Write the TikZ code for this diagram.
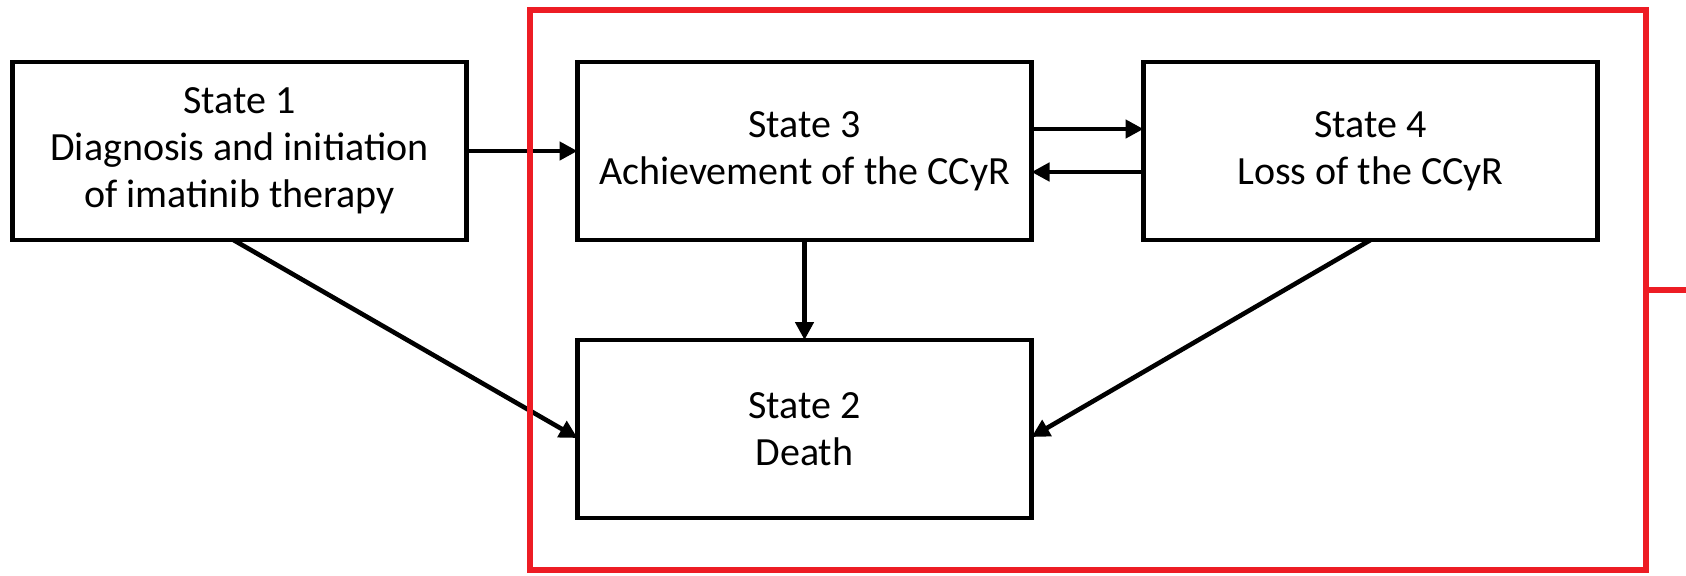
\documentclass[tikz,border=0pt]{standalone}
\usepackage{fontspec}
\setmainfont{Carlito}
\usetikzlibrary{arrows.meta,positioning,fit}
\definecolor{framered}{RGB}{237,28,36}

\begin{document}
\begin{tikzpicture}[x=0.5pt, y=-0.5pt,
        state/.style={draw, line width=2.3pt, minimum width=227pt, minimum height=89pt,
            inner sep=0pt, outer sep=0pt, align=center, font=\fontsize{20}{23.5}\selectfont},
        link/.style={line width=2.3pt, -{Triangle[length=9pt,width=9pt]}},
        frame/.style={draw=framered, line width=3pt, inner xsep=24pt, inner ysep=26pt}]

    \useasboundingbox (0,0) rectangle (1686,575);

    % states
    \node[state] (s1) at (239.5,151) {State 1\\Diagnosis and initiation\\of imatinib therapy};
    \node[state, right=55.5pt of s1] (s3) {State 3\\Achievement of the CCyR};
    \node[state, right=56pt of s3] (s4) {State 4\\Loss of the CCyR};
    \node[state, below=50pt of s3] (s2) {State 2\\Death};

    % transitions
    \draw[link] (s1) -- (s3);
    \draw[link] ([yshift=11pt]s3.east) -- ([yshift=11pt]s4.west);
    \draw[link] ([yshift=-10.5pt]s4.west) -- ([yshift=-10.5pt]s3.east);
    \draw[link] (s3) -- (s2);
    \draw[link] ([xshift=-3pt]s1.south) -- ([yshift=-4.5pt]s2.west);
    \draw[link] (s4.south) -- ([yshift=-4pt]s2.east);

    % red frame round states 2, 3 and 4
    \node[frame, fit=(s3)(s4)(s2)] (grp) {};
    \coordinate (edge) at (1690,292);
    \draw[framered, line width=3pt] (grp.east) -- (edge |- grp.east);
\end{tikzpicture}
\end{document}
